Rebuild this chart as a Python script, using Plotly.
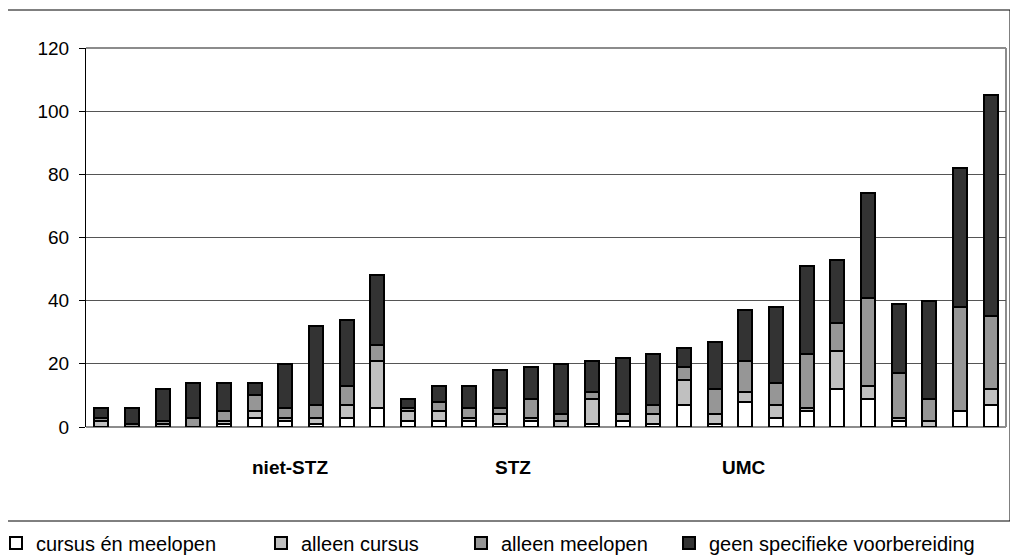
import plotly.graph_objects as go


# Waarden per ziekenhuis (30 staven), van onder naar boven gestapeld.
ZIEKENHUIZEN = list(range(30))

CURSUS_EN_MEELOPEN = [0, 0, 0, 0, 1, 3, 2, 1, 3, 6,
                      2, 2, 2, 1, 2, 0, 1, 2, 1, 7,
                      1, 8, 3, 5, 12, 9, 2, 0, 5, 7]
ALLEEN_CURSUS = [2, 0, 1, 0, 1, 2, 1, 2, 4, 15,
                 3, 3, 1, 3, 1, 2, 8, 2, 3, 8,
                 3, 3, 4, 1, 12, 4, 1, 2, 0, 5]
ALLEEN_MEELOPEN = [1, 1, 1, 3, 3, 5, 3, 4, 6, 5,
                   1, 3, 3, 2, 6, 2, 2, 0, 3, 4,
                   8, 10, 7, 17, 9, 28, 14, 7, 33, 23]
GEEN_VOORBEREIDING = [3, 5, 10, 11, 9, 4, 14, 25, 21, 22,
                      3, 5, 7, 12, 10, 16, 10, 18, 16, 6,
                      15, 16, 24, 28, 20, 33, 22, 31, 44, 70]

GROEPEN = ["niet-STZ", "STZ", "UMC"]
GROEP_POSITIES = [6.14, 13.44, 20.95]

REEKSEN = [
    ("cursus én meelopen", CURSUS_EN_MEELOPEN, "#FFFFFF"),
    ("alleen cursus", ALLEEN_CURSUS, "#C0C0C0"),
    ("alleen meelopen", ALLEEN_MEELOPEN, "#969696"),
    ("geen specifieke voorbereiding", GEEN_VOORBEREIDING, "#333333"),
]

FONT = "Liberation Sans, Arial, sans-serif"

# Plotgebied in pixels van het beeld: links 86, rechts 1006, boven 48, onder 427.
# De pagina zet de grafiek 8 px naar rechts en naar beneden (body-marge).
L, R, T, B = 86, 1006, 48, 427
W, H = 1018, 558
OFFSET = 8


def px_x(px):
    return (px - L) / (R - L)


def px_y(py):
    return (B - py) / (B - T)


def main():

    fig = go.Figure()

    # Linkerkant van elke legenda in pixels.
    legend_x = [-4, 261, 461, 669]
    legends = {}

    for i, (naam, waarden, kleur) in enumerate(REEKSEN):
        legend_id = "legend" if i == 0 else f"legend{i + 1}"
        fig.add_trace(
            go.Bar(
                x=ZIEKENHUIZEN,
                y=waarden,
                name=naam,
                width=0.45,
                marker_color=kleur,
                marker_line_color="#000000",
                marker_line_width=2,
                legend=legend_id,
            )
        )
        legends[legend_id] = dict(
            x=px_x(legend_x[i]),
            y=px_y(543),
            xanchor="left",
            yanchor="middle",
            orientation="h",
            bgcolor="rgba(0,0,0,0)",
            font=dict(family=FONT, size=20, color="#000000"),
            itemwidth=30,
        )

    fig.update_xaxes(
        range=[-0.5, 29.5],
        showticklabels=False,
        showgrid=False,
        zeroline=False,
        showline=False,
        ticks="",
    )

    fig.update_yaxes(
        range=[0, 120],
        tickvals=[0, 20, 40, 60, 80, 100, 120],
        ticks="outside",
        ticklen=6,
        tickcolor="#000000",
        tickfont=dict(family=FONT, size=19, color="#000000"),
        ticklabelstandoff=6,
        showline=True,
        linecolor="#000000",
        linewidth=1,
        showgrid=True,
        gridcolor="#555555",
        gridwidth=1,
        zeroline=False,
        automargin=False,
    )

    annotations = [
        dict(
            x=pos,
            y=px_y(467),
            xref="x",
            yref="paper",
            text=f"<b>{groep}</b>",
            showarrow=False,
            xanchor="center",
            yanchor="middle",
            font=dict(family=FONT, size=19, color="#000000"),
        )
        for groep, pos in zip(GROEPEN, GROEP_POSITIES)
    ]

    lijn = dict(color="#000000", width=1)
    shapes = [
        # Rand van het plotgebied.
        dict(type="line", xref="paper", yref="paper", x0=0, x1=1, y0=1, y1=1,
             line=dict(color="#8C8C8C", width=2), layer="below"),
        dict(type="line", xref="paper", yref="paper", x0=1, x1=1, y0=0, y1=1,
             line=dict(color="#8C8C8C", width=2), layer="below"),
        dict(type="line", xref="paper", yref="paper", x0=0, x1=1, y0=0, y1=0,
             line=dict(color="#8C8C8C", width=2), layer="below"),
        # Kader van de grafiek en legenda.
        dict(type="line", xref="paper", yref="paper", x0=px_x(7), x1=px_x(1010),
             y0=px_y(10), y1=px_y(10), line=lijn),
        dict(type="line", xref="paper", yref="paper", x0=px_x(7), x1=px_x(7),
             y0=px_y(10), y1=px_y(562), line=lijn),
        dict(type="line", xref="paper", yref="paper", x0=px_x(1010), x1=px_x(1010),
             y0=px_y(10), y1=px_y(521), line=lijn),
        dict(type="line", xref="paper", yref="paper", x0=px_x(0), x1=px_x(1018),
             y0=px_y(521), y1=px_y(521), line=lijn),
    ]

    fig.update_layout(
        barmode="stack",
        width=W,
        height=H,
        margin=dict(
            l=L - OFFSET,
            r=W - (R - OFFSET),
            t=T - OFFSET,
            b=H - (B - OFFSET),
            pad=0,
            autoexpand=False,
        ),
        plot_bgcolor="#FFFFFF",
        paper_bgcolor="#FFFFFF",
        font=dict(family=FONT, size=18, color="#000000"),
        showlegend=True,
        annotations=annotations,
        shapes=shapes,
        **legends,
    )

    fig.write_html("out.html")


if __name__ == "__main__":

    main()
